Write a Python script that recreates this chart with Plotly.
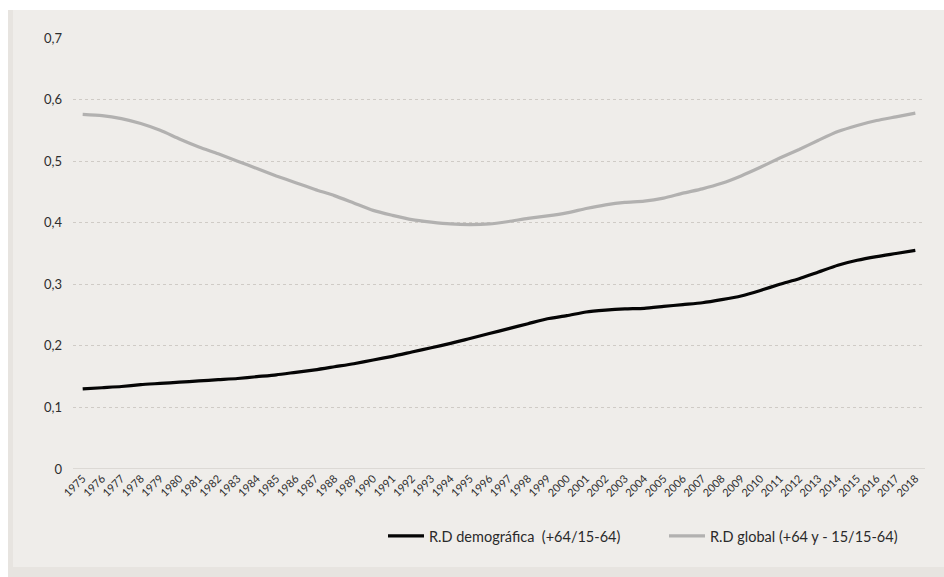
import plotly.graph_objects as go

# Años y series de razón de dependencia
years = [str(y) for y in range(1975, 2019)]

rd_demografica = [
    0.130, 0.132, 0.134, 0.137, 0.139, 0.141, 0.143, 0.145, 0.147, 0.150,
    0.153, 0.157, 0.161, 0.166, 0.171, 0.177, 0.183, 0.190, 0.197, 0.204,
    0.212, 0.220, 0.228, 0.236, 0.244, 0.249, 0.255, 0.258, 0.260, 0.261,
    0.264, 0.267, 0.270, 0.275, 0.281, 0.290, 0.300, 0.309, 0.320, 0.331,
    0.339, 0.345, 0.350, 0.355,
]

rd_global = [
    0.576, 0.574, 0.569, 0.561, 0.550, 0.536, 0.523, 0.512, 0.500, 0.488,
    0.476, 0.465, 0.454, 0.444, 0.432, 0.420, 0.412, 0.405, 0.401, 0.398,
    0.397, 0.398, 0.402, 0.407, 0.411, 0.416, 0.423, 0.429, 0.433, 0.435,
    0.440, 0.448, 0.455, 0.464, 0.476, 0.490, 0.505, 0.519, 0.534, 0.548,
    0.558, 0.566, 0.572, 0.578,
]

y_ticks = [0, 0.1, 0.2, 0.3, 0.4, 0.5, 0.6, 0.7]
y_labels = ["0", "0,1", "0,2", "0,3", "0,4", "0,5", "0,6", "0,7"]

W, H = 944, 577
L, R, T, B = 73, 19, 38, 108
pw, ph = W - L - R, H - T - B


def px_x(p):
    return (p - L) / pw


def px_y(p):
    return (H - B - p) / ph


fig = go.Figure()

fig.add_trace(go.Scatter(
    x=years, y=rd_demografica, mode="lines",
    name="R.D demográfica  (+64/15-64)",
    legend="legend",
    line=dict(color="#050505", width=3.2, shape="spline", smoothing=0.6),
))
fig.add_trace(go.Scatter(
    x=years, y=rd_global, mode="lines",
    name="R.D global (+64 y - 15/15-64)",
    legend="legend2",
    line=dict(color="#b2b1b0", width=3.2, shape="spline", smoothing=0.6),
))

# Fondo del panel: marco gris y área interior más clara
fig.add_shape(type="rect", xref="paper", yref="paper", layer="below",
              x0=px_x(8), x1=px_x(W + 2), y0=px_y(H + 2), y1=px_y(10),
              line=dict(width=0), fillcolor="#e7e4e0")
fig.add_shape(type="rect", xref="paper", yref="paper", layer="below",
              x0=px_x(13), x1=px_x(W + 2), y0=px_y(567), y1=px_y(10),
              line=dict(width=0), fillcolor="#efedea")

legend_style = dict(
    orientation="h",
    xanchor="left",
    yanchor="middle",
    y=px_y(536),
    font=dict(size=14.5, color="#2a2a2a"),
    bgcolor="rgba(0,0,0,0)",
    itemwidth=36,
)

fig.update_layout(
    width=W, height=H,
    margin=dict(l=L, r=R, t=T, b=B, autoexpand=False),
    paper_bgcolor="white",
    plot_bgcolor="rgba(0,0,0,0)",
    font=dict(family="Lato, 'Noto Sans', sans-serif", color="#2e2e2e"),
    showlegend=True,
    legend=dict(legend_style, x=px_x(383)),
    legend2=dict(legend_style, x=px_x(664)),
    xaxis=dict(
        type="category",
        range=[-0.5, len(years) - 0.5],
        showgrid=False,
        zeroline=False,
        showline=False,
        ticks="",
        tickangle=-45,
        tickfont=dict(size=11, color="#2e2e2e"),
    ),
    yaxis=dict(
        range=[0, 0.7],
        tickvals=y_ticks,
        ticktext=y_labels,
        showgrid=True,
        gridcolor="#cfcbc6",
        griddash="dot",
        gridwidth=1,
        zeroline=False,
        showline=False,
        ticks="",
        ticklabelstandoff=10,
        tickfont=dict(size=13, color="#2e2e2e"),
    ),
)

# Línea base en cero (continua)
fig.add_shape(type="line", xref="paper", yref="y",
              x0=0, x1=1, y0=0, y1=0,
              line=dict(color="#c9c5c0", width=1.2))

fig.write_html("out.html")
